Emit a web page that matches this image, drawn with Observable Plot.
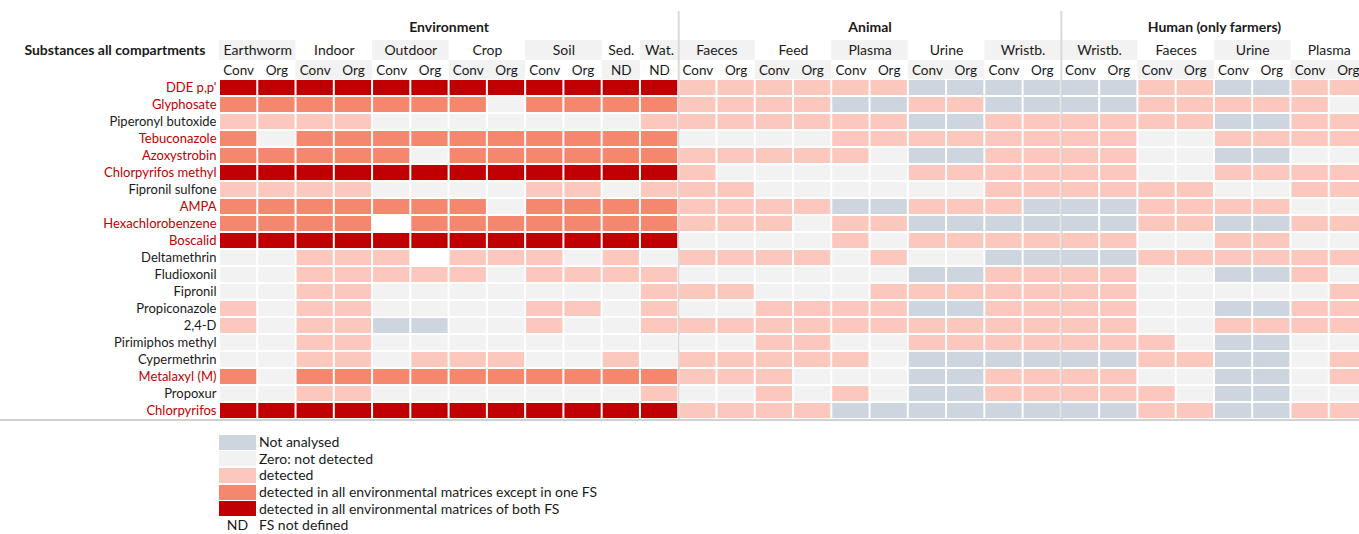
<!DOCTYPE html>
<html><head><meta charset="utf-8">
<script src="https://cdn.jsdelivr.net/npm/d3@7"></script>
<script src="https://cdn.jsdelivr.net/npm/@observablehq/plot@0.6"></script>
<style>
body{margin:0;background:#fff;font-family:Lato,"Open Sans",sans-serif;}
#wrap{position:relative;width:1359px;height:534px;overflow:hidden;}
#legend{position:absolute;left:219px;top:434px;font-size:14px;color:#1a1a1a;}
.lrow{display:flex;align-items:center;height:16.6px;line-height:16px;}
.sw{width:37px;height:15px;margin-right:3px;flex:none;}
.nd{width:37px;margin-right:3px;text-align:center;flex:none;}
</style></head><body><div id="wrap"><div id="chart"></div><div id="legend"></div></div>
<script>
// ---------- data ----------
const substances = ["DDE p,p'","Glyphosate","Piperonyl butoxide","Tebuconazole","Azoxystrobin","Chlorpyrifos methyl","Fipronil sulfone","AMPA","Hexachlorobenzene","Boscalid","Deltamethrin","Fludioxonil","Fipronil","Propiconazole","2,4-D","Pirimiphos methyl","Cypermethrin","Metalaxyl (M)","Propoxur","Chlorpyrifos"];
const highlighted = ["DDE p,p'","Glyphosate","Tebuconazole","Azoxystrobin","Chlorpyrifos methyl","AMPA","Hexachlorobenzene","Boscalid","Metalaxyl (M)","Chlorpyrifos"];

const groups = ["Environment","Animal","Human (only farmers)"];
const sectionNames = ["Earthworm","Indoor","Outdoor","Crop","Soil","Sed.","Wat.","Faeces","Feed","Plasma","Urine","Wristb.","Wristb.","Faeces","Urine","Plasma"];
const sectionGroup = [0,0,0,0,0,0,0,1,1,1,1,1,2,2,2,2];
const sectionSubs = [["Conv","Org"],["Conv","Org"],["Conv","Org"],["Conv","Org"],["Conv","Org"],["ND"],["ND"],
  ["Conv","Org"],["Conv","Org"],["Conv","Org"],["Conv","Org"],["Conv","Org"],
  ["Conv","Org"],["Conv","Org"],["Conv","Org"],["Conv","Org"]];

// codes: N not analysed, Z zero, D detected, E all env except one FS, A all env both FS, W blank
const envValues = ["AAAAAAAAAAAA","EEEEEEEZEEEE","DDDDZZZZZZZD","EZEEEEEEEEEE","EEEEEZEEEEEE","AAAAAAAAAAAA","DDDDZZZZDDZD","EEEEEEEZEEEE","EEEEWEEEEEEE","AAAAAAAAAAAA",
  "ZZDDDWDDDZDZ","ZZDDDDDZDDDD","ZZDDZZZZZZZD","DZDDZZZZDDZD","DZDDNNZZDZZD","ZZDDZZZZZZZZ","ZZDDZDDDZZDZ","EZEEEEEEEEEE","ZZDDZZZZZZZD","AAAAAAAAAAAA"];
const animalValues = ["DDDDDDNNNN","DDDDNNDDNN","DDDDDDNNDD","ZZZZDDDDDD","DDDDDZNNDD","DZZZZZDDDD","DDZZZZZZDD","DDDDNNDDDN","DDDZDDNNNN","ZZZZDZDDDD",
  "DDDDZDZZNN","ZZZZZZNNDD","DDZZZDDDDD","ZZDDDDNNDD","DDDDDDDDDD","ZZDDZZDDDD","DDDDDZNNNN","DDDZZZNNDD","ZZDZDZNNDD","DDDDNNNNNN"];
const humanValues = ["NNDDNNDD","NNDDDDDZ","DDDDNNDD","DDZZDDDD","DDZZNNZZ","DDZZDDDD","DDDDZZDD","NNDDDDZZ","NNDDNNDD","DDZZDDZZ",
  "NNDDDDDD","DDZZNNDZ","DDZZZZZD","DDZZNNDD","DDZZDDDD","DDDZNNZZ","NNDDNNZD","DDZZNNZD","DDDZNNZZ","NNDDNNDD"];

const codes = ["N","Z","D","E","A","W"];
const codeColors = ["#CDD5DF","#F2F2F2","#FCC7BD","#F6876F","#C00000","#FFFFFF"];
const legendCodes = ["N","Z","D","E","A"];
const legendLabels = ["Not analysed","Zero: not detected","detected","detected in all environmental matrices except in one FS","detected in all environmental matrices of both FS"];
const rowTitle = "Substances all compartments";

// ---------- derived tables ----------
const columns = [];
sectionNames.forEach((name, si) => sectionSubs[si].forEach(sub => columns.push({c: columns.length, section: si, group: sectionGroup[si], sub})));
const sections = sectionNames.map((name, si) => {
  const cs = columns.filter(d => d.section === si).map(d => d.c);
  const g = sectionGroup[si];
  const k = sectionGroup.slice(0, si).filter(v => v === g).length; // index within group
  return {name, c0: d3.min(cs), c1: d3.max(cs) + 1, k};
});
const groupSpans = groups.map((name, g) => {
  const cs = columns.filter(d => d.group === g).map(d => d.c);
  return {name, c0: d3.min(cs), c1: d3.max(cs) + 1};
});
const cells = substances.flatMap((s, r) =>
  [...(envValues[r] + animalValues[r] + humanValues[r])].map((code, c) => ({r, c, code})));
const rows = substances.map((s, i) => ({s, i, red: highlighted.includes(s)}));
const subBg = columns.filter(d => sections[d.section].k % 2 === 1);

// header row positions in row units above the grid
const Y_GROUP = -3.05, Y_SEC = -1.7, Y_SUB = -0.5;
const TXT = "#1a1a1a";

const chart = Plot.plot({
  width: 1359, height: 422,
  marginLeft: 219, marginRight: 0, marginTop: 79, marginBottom: 3,
  x: {domain: [0, 30], range: [219, 1367], axis: null},
  y: {domain: [0, 20], range: [79, 419], axis: null},
  color: {type: "ordinal", domain: codes, range: codeColors},
  style: {fontFamily: "Lato, 'Open Sans', sans-serif", fontSize: "13px", background: "white", overflow: "visible"},
  marks: [
    // header backgrounds
    Plot.rect(sections.filter(d => d.k % 2 === 0), {x1: "c0", x2: "c1", y1: () => -2.3, y2: () => -1.12, fill: "#F2F2F2"}),
    Plot.rect(subBg, {x1: "c", x2: d => d.c + 1, y1: () => -1.12, y2: () => 0, fill: "#F2F2F2"}),
    // separators
    Plot.ruleX(groupSpans.slice(1), {x: "c0", y1: () => -4, y2: () => 20, stroke: "#D9D9D9", strokeWidth: 2}),
    Plot.ruleY([20], {x1: () => -5.75, x2: () => 30, stroke: "#D0D0D0", strokeWidth: 2, dy: 0.5}),
    // cells
    Plot.rect(cells, {x1: "c", x2: d => d.c + 1, y1: "r", y2: d => d.r + 1, fill: "code", inset: 1}),
    // header texts
    Plot.text(groupSpans, {x: d => (d.c0 + d.c1) / 2, y: () => Y_GROUP, text: "name", fontWeight: "bold", fontSize: 14, fill: TXT}),
    Plot.text(sections, {x: d => (d.c0 + d.c1) / 2, y: () => Y_SEC, text: "name", fontSize: 14, fill: TXT}),
    Plot.text(columns, {x: d => d.c + 0.5, y: () => Y_SUB, text: "sub", fontSize: 13.5, fill: TXT}),
    Plot.text([rowTitle], {x: () => 0, y: () => Y_SEC, text: d => d, textAnchor: "end", dx: -14, fontWeight: "bold", fontSize: 14, fill: TXT}),
    // row labels
    Plot.text(rows.filter(d => d.red), {x: () => 0, y: d => d.i + 0.5, text: "s", textAnchor: "end", dx: -3, fill: "#C00000"}),
    Plot.text(rows.filter(d => !d.red), {x: () => 0, y: d => d.i + 0.5, text: "s", textAnchor: "end", dx: -3, fill: TXT})
  ]
});
document.getElementById("chart").appendChild(chart);

// legend
const legend = document.getElementById("legend");
legendCodes.forEach((code, i) => {
  const row = document.createElement("div"); row.className = "lrow";
  const sw = document.createElement("div"); sw.className = "sw";
  sw.style.background = codeColors[codes.indexOf(code)];
  const t = document.createElement("span"); t.textContent = legendLabels[i];
  row.append(sw, t); legend.append(row);
});
{
  const row = document.createElement("div"); row.className = "lrow";
  const nd = document.createElement("div"); nd.className = "nd"; nd.textContent = "ND";
  const t = document.createElement("span"); t.textContent = "FS not defined";
  row.append(nd, t); legend.append(row);
}
</script></body></html>
